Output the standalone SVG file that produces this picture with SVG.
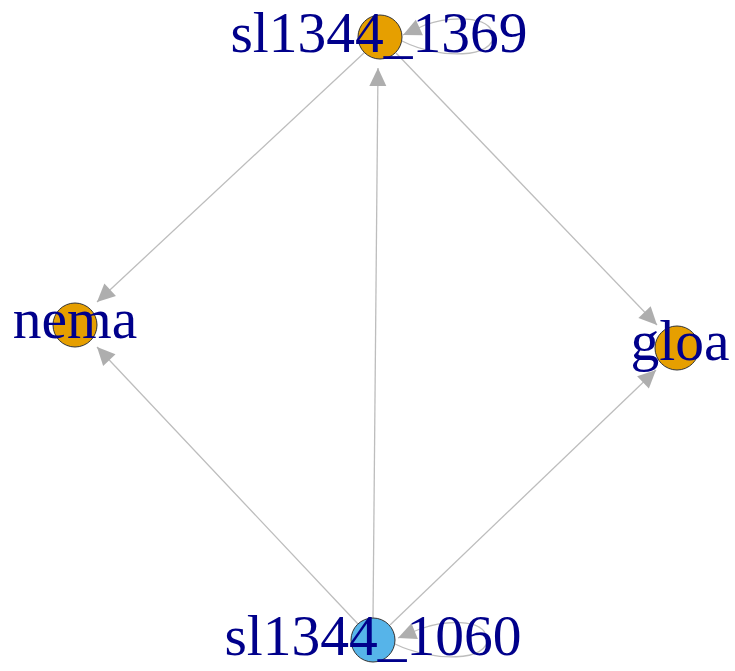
<svg xmlns="http://www.w3.org/2000/svg" width="735" height="671" viewBox="0 0 735 671">
<style>
.e{fill:none;stroke:#BDBDBD;stroke-width:1.3}
.n{stroke:#333;stroke-width:1}
.lbl{font-family:"Liberation Serif","Times New Roman",serif;font-size:57.5px;fill:#00008B;text-anchor:middle}
</style>
<defs>
<marker id="ah" markerUnits="userSpaceOnUse" markerWidth="22" markerHeight="22" viewBox="-20 -11 22 22" refX="0" refY="0" orient="auto">
<path d="M0,0 L-18,-8.5 L-18,8.5 z" fill="#AEAEAE"/>
</marker>
</defs>
<rect width="735" height="671" fill="#fff"/>
<g id="edges">
<line class="e" x1="365" y1="52" x2="97" y2="302" marker-end="url(#ah)"/>
<line class="e" x1="358" y1="624" x2="97" y2="347" marker-end="url(#ah)"/>
<line class="e" x1="390" y1="625" x2="656" y2="370" marker-end="url(#ah)"/>
<line class="e" x1="396" y1="53" x2="657" y2="325" marker-end="url(#ah)"/>
<line class="e" x1="373" y1="618" x2="378" y2="68" marker-end="url(#ah)"/>
<path class="e" d="M402,41 C440,60 495,58 493,35 C490,14 447,17 425,25 L403,35" marker-end="url(#ah)"/>
<path class="e" d="M395,644 C432,662 490,662 487,638 C483,617 442,621 420,629 L398,638" marker-end="url(#ah)"/>
</g>
<g id="sl1344_1369">
<circle class="n" cx="380" cy="37" r="22" fill="#E69F00"/>
<text class="lbl" x="379" y="52">sl1344_1369</text>
</g>
<g id="sl1344_1060">
<circle class="n" cx="373" cy="640" r="22" fill="#56B4E9"/>
<text class="lbl" x="373" y="655">sl1344_1060</text>
</g>
<g id="nema">
<circle class="n" cx="75" cy="325" r="22" fill="#E69F00"/>
<text class="lbl" x="75" y="338">nema</text>
</g>
<g id="gloa">
<circle class="n" cx="677" cy="348" r="22" fill="#E69F00"/>
<text class="lbl" x="680" y="360">gloa</text>
</g>
</svg>
